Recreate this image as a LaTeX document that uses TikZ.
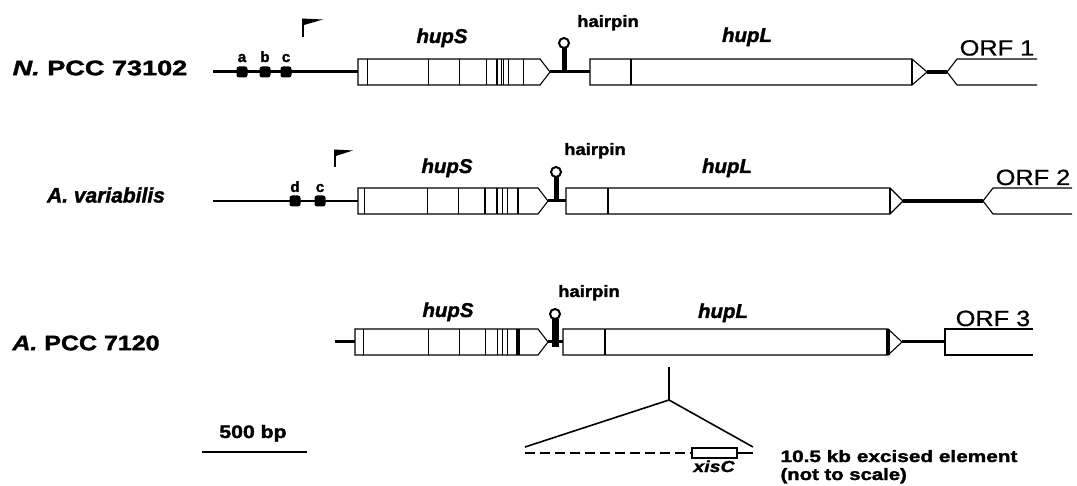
\documentclass[tikz,border=0pt]{standalone}
\usepackage{fontspec}
\setmainfont{Liberation Sans}[BoldFeatures={FakeBold=1.6},BoldItalicFeatures={FakeBold=1.6}]
\newfontfamily\orffont{Liberation Sans}[FakeBold=0.8]
% horizontally widened text
\newcommand\wx[2]{\scalebox{#1}[1]{#2}}
% gene body: left x, arrow start, tip x, centre y
\newcommand\genebody[4]{%
  \draw[genebox] (#1,#4-13) -- (#2,#4-13) -- (#3,#4) -- (#2,#4+13) -- (#1,#4+13) -- cycle;}
% vertical marks inside a gene body
\newcommand\genemarks[3]{%
  \foreach \xx in {#2} {\draw[#3] (\xx,#1-13) -- (\xx,#1+13);}}
% hairpin: x, line y, circle y, stem width
\newcommand\hairpinmark[4]{%
  \draw[line width=#4] (#1,#2) -- (#1,#3+5);
  \draw[line width=2pt,fill=white] (#1,#3) circle[radius=5pt];}
\begin{document}
\begin{tikzpicture}[x=1pt,y=-1pt,
  genebox/.style={draw,line width=1.1pt,fill=white,line join=miter},
  dna/.style={line width=3pt},
  thinmark/.style={line width=0.9pt},
  boldmark/.style={line width=2.6pt},
  species/.style={font=\fontsize{21}{24}\selectfont\bfseries},
  genename/.style={font=\fontsize{20}{23}\selectfont\bfseries\itshape,anchor=base},
  hplabel/.style={font=\fontsize{16.5}{19}\selectfont\bfseries,anchor=base},
  orflabel/.style={font=\fontsize{22}{25}\selectfont\orffont,anchor=base},
  site/.style={font=\fontsize{15}{17}\selectfont\bfseries,anchor=base},
  note/.style={font=\fontsize{16.5}{19}\selectfont\bfseries,anchor=base west},
  sitedot/.style={fill=black,rounded corners=2.5pt},
  flagpole/.style={line width=1.6pt}]
\useasboundingbox (0,0) rectangle (1077,486);

% ---------------- N. PCC 73102 ----------------
\node[species] (sp1) at (100,68) {\wx{1.29}{\textit{N.} PCC 73102}};
\coordinate (p1l) at (213,72);
\coordinate (p1s) at (358,72);
\draw[dna] (p1l) -- (p1s);
\foreach \xx/\ll in {242/a,265/b,286/c} {
  \fill[sitedot] (\xx-5.5,66.5) rectangle (\xx+5.5,77.5);
  \node[site] (s1\ll) at (\xx,62) {\ll};}
\draw[flagpole] (303,37) -- (303,19.5);
\fill (302.2,18.5) -- (323,19.5) -- (311,23) -- (302.2,25.5) -- cycle;
\coordinate (h1a) at (550,72);
\coordinate (h1b) at (590,72);
\draw[dna] (h1a) -- (h1b);
\genebody{358}{540}{550}{72}
\genemarks{72}{367,428,459,486,501,503.5,508,523}{thinmark}
\genemarks{72}{497}{line width=1.8pt}
\hairpinmark{564}{72}{43}{5pt}
\genebody{590}{912}{927}{72}
\genemarks{72}{631,912}{boldmark}
\coordinate (o1a) at (927,72);
\coordinate (o1b) at (947,72);
\draw[line width=4pt] (o1a) -- (o1b);
\draw[genebox,fill=none] (1037,59) -- (957,59) -- (947,72) -- (957,85) -- (1037,85);
\node[genename] (s1g) at (442,43) {\wx{1.02}{hupS}};
\node[genename] (l1g) at (747,42) {\wx{1.02}{hupL}};
\node[hplabel] (hp1) at (608,27) {\wx{1.12}{hairpin}};
\node[orflabel] (orf1) at (997,55.5) {\wx{1.15}{ORF 1}};

% ---------------- A. variabilis ----------------
\node[species] (sp2) at (106,195) {\wx{1.0}{\textit{A. variabilis}}};
\coordinate (p2l) at (213,201);
\coordinate (p2s) at (358,201);
\draw[line width=2.6pt] (p2l) -- (p2s);
\foreach \xx/\ll in {295/d,320/c} {
  \fill[sitedot] (\xx-5.5,195.5) rectangle (\xx+5.5,206.5);
  \node[site] (s2\ll) at (\xx,192) {\ll};}
\draw[flagpole] (335,167) -- (335,150);
\fill (334.2,149.5) -- (353,150.5) -- (342,154) -- (334.2,156.5) -- cycle;
\coordinate (h2a) at (548,201);
\coordinate (h2b) at (566,201);
\draw[dna] (h2a) -- (h2b);
\genebody{358}{538}{548}{201}
\genemarks{201}{364,427,458,502,507}{thinmark}
\genemarks{201}{485,497,518}{line width=2pt}
\hairpinmark{556}{201}{172}{5pt}
\genebody{566}{890}{903}{201}
\genemarks{201}{608,890}{boldmark}
\coordinate (o2a) at (903,201);
\coordinate (o2b) at (983,201);
\draw[line width=4pt] (o2a) -- (o2b);
\draw[genebox,fill=none] (1072,188) -- (993,188) -- (983,201) -- (993,214) -- (1072,214);
\node[genename] (s2g) at (447,173) {\wx{1.02}{hupS}};
\node[genename] (l2g) at (727,173) {\wx{1.02}{hupL}};
\node[hplabel] (hp2) at (595,155) {\wx{1.12}{hairpin}};
\node[orflabel] (orf2) at (1033,185) {\wx{1.15}{ORF 2}};

% ---------------- A. PCC 7120 ----------------
\node[species] (sp3) at (86,343) {\wx{1.19}{\textit{A.} PCC 7120}};
\coordinate (p3l) at (335,342);
\coordinate (p3s) at (355,342);
\draw[dna] (p3l) -- (p3s);
\coordinate (h3a) at (548,342);
\coordinate (h3b) at (563,342);
\draw[dna] (h3a) -- (h3b);
\genebody{355}{538}{548}{342}
\genemarks{342}{363,428,459,485,497,502,507}{thinmark}
\genemarks{342}{518}{line width=3.5pt}
\hairpinmark{555}{347}{314}{7pt}
\genebody{563}{888}{902}{342}
\genemarks{342}{605}{boldmark}
\genemarks{342}{888}{line width=3.5pt}
\coordinate (o3a) at (902,342);
\coordinate (o3b) at (945,342);
\draw[dna] (o3a) -- (o3b);
\draw[genebox,fill=none] (1033,329) -- (945,329) -- (945,355) -- (1033,355);
\node[genename] (s3g) at (448,317) {\wx{1.02}{hupS}};
\node[genename] (l3g) at (723,318) {\wx{1.02}{hupL}};
\node[hplabel] (hp3) at (589,297) {\wx{1.12}{hairpin}};
\node[orflabel] (orf3) at (993,326) {\wx{1.15}{ORF 3}};

% ---------------- excised element ----------------
\coordinate (ins) at (669,367);
\coordinate (apex) at (669,400);
\coordinate (exl) at (525,447);
\coordinate (exr) at (753,447);
\draw[line width=1.6pt] (ins) -- (apex);
\draw[line width=1.6pt] (exl) -- (apex) -- (exr);
\draw[line width=1.3pt,dash pattern=on 10pt off 5pt] (525,453) -- (692,453);
\draw[line width=1.3pt] (737,453) -- (753,453);
\draw[genebox,line width=1.2pt] (692,448) rectangle (737,458);
\node[font=\fontsize{16}{19}\selectfont\bfseries\itshape,anchor=base] (xis) at (714,472) {\wx{1.22}{xisC}};
\node[note] (exnote) at (777,462) {\wx{1.26}{10.5 kb excised element}};
\node[note] (scalenote) at (777,480) {\wx{1.23}{(not to scale)}};

% ---------------- scale bar ----------------
\coordinate (sbl) at (202,452);
\coordinate (sbr) at (307,452);
\draw[line width=1.6pt] (sbl) -- (sbr);
\node[font=\fontsize{18}{21}\selectfont\bfseries,anchor=base] (sb) at (253,438) {\wx{1.18}{500 bp}};
\end{tikzpicture}
\end{document}
